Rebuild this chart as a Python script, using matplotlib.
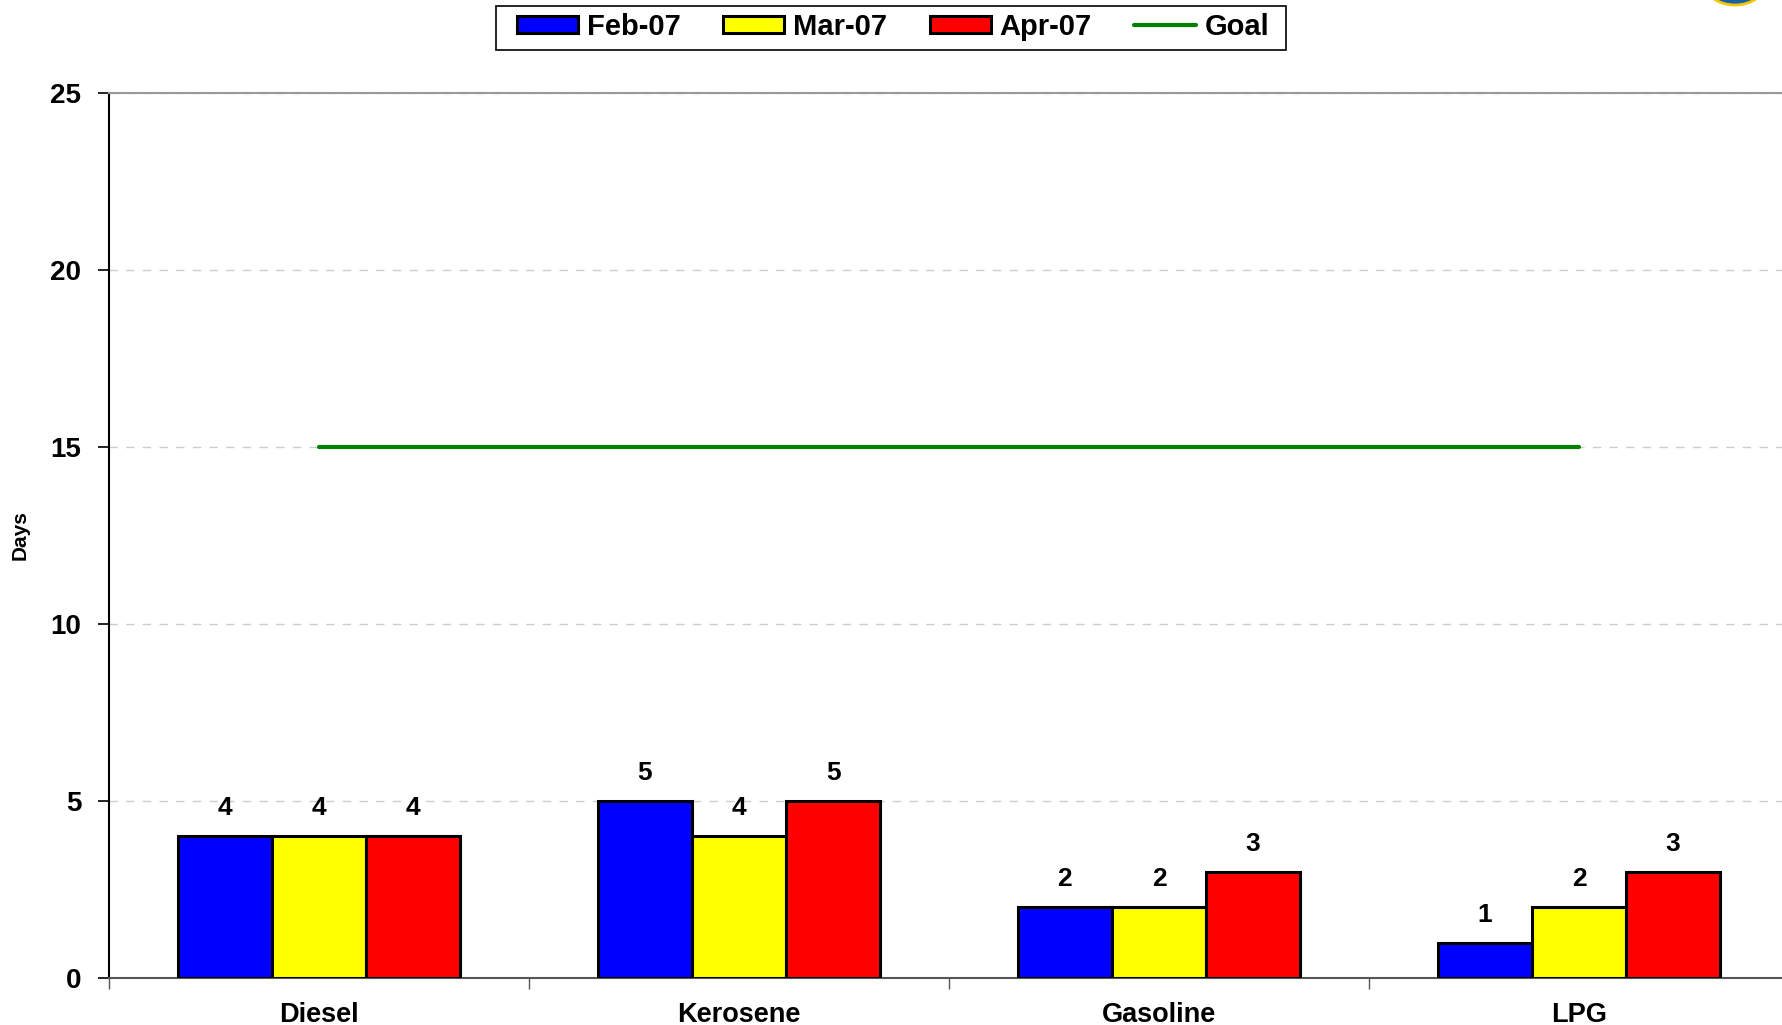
import matplotlib
matplotlib.use("Agg")
import matplotlib.pyplot as plt
import numpy as np
from matplotlib.patches import Ellipse, Rectangle

# data
categories = ["Diesel", "Kerosene", "Gasoline", "LPG"]
months = ["Feb-07", "Mar-07", "Apr-07"]
feb_07 = [4, 5, 2, 1]
mar_07 = [4, 4, 2, 2]
apr_07 = [4, 5, 3, 3]
goal = [15, 15, 15, 15]
colors = ["#0000FF", "#FFFF00", "#FF0000"]

plt.rcParams['font.family'] = ['Liberation Sans', 'DejaVu Sans']

fig = plt.figure(figsize=(17.83, 10.25), dpi=100)
W, H = 1783, 1025
ax = fig.add_axes([109 / W, 1 - 978 / H, (1789 - 109) / W, (978 - 93) / H])

x = np.arange(len(categories))
width = 0.224
series = [feb_07, mar_07, apr_07]
handles = []
for i, (vals, c, lab) in enumerate(zip(series, colors, months)):
    pos = x + (i - 1) * width
    bars = ax.bar(pos, vals, width, color=c, edgecolor="black", linewidth=2.2,
                  label=lab, zorder=3)
    handles.append(bars)
    for xp, v in zip(pos, vals):
        ax.text(xp, v + 0.45, str(v), ha="center", va="bottom",
                fontsize=19, fontweight="bold", zorder=4)

line, = ax.plot(x, goal, color="#008000", linewidth=3, label="Goal", zorder=4,
                solid_capstyle="round")
handles.append(line)

ax.set_xlim(-0.5, 3.5)
ax.set_ylim(0, 25)
ax.set_yticks(range(0, 26, 5))
ax.set_yticklabels([str(t) for t in range(0, 26, 5)], fontsize=20, fontweight="bold")
ax.set_xticks(x)
ax.set_xticklabels(categories, fontsize=19.5, fontweight="bold")
ax.tick_params(axis="x", length=0, pad=17)
ax.tick_params(axis="y", length=8, width=1.2, direction="out", pad=12)
# category separators on the x axis
ax.set_xticks(np.arange(-0.5, 3.6, 1), minor=True)
ax.tick_params(axis="x", which="minor", length=8, width=1, direction="out", color="#555555")

ax.yaxis.grid(True, linestyle=(0, (6, 6)), color="#cccccc", linewidth=1)
ax.set_axisbelow(True)
ax.spines["right"].set_visible(False)
ax.spines["top"].set_color("#999999")
ax.spines["top"].set_linewidth(1.5)
ax.spines["left"].set_linewidth(1.5)
ax.spines["bottom"].set_color("#555555")
ax.spines["bottom"].set_linewidth(1.5)

fig.text(20 / W, 1 - 535 / H, "Days", rotation=90, ha="center", va="center",
         fontsize=15, fontweight="bold")

leg = fig.legend(handles, months + ["Goal"], loc="center",
                 bbox_to_anchor=(893 / W, 1 - 27 / H), ncol=4,
                 prop={"weight": "bold", "size": 21},
                 frameon=False, handlelength=2.1, handleheight=0.55,
                 columnspacing=1.46, handletextpad=0.3, borderpad=0.35)

# legend box drawn separately to match the original frame
fig.patches.append(Rectangle((496 / W, 1 - 50 / H), 790 / W, 44 / H,
                             transform=fig.transFigure, facecolor="none",
                             edgecolor="black", linewidth=1.2, figure=fig))

# partial logo at top right
fig.patches.append(Ellipse((1735 / W, 1 + 18 / H), 62 / W, 46 / H,
                           transform=fig.transFigure, facecolor="#1a5ea8",
                           edgecolor="#f2c500", linewidth=2, figure=fig))

fig.savefig("out.png", dpi=100)
